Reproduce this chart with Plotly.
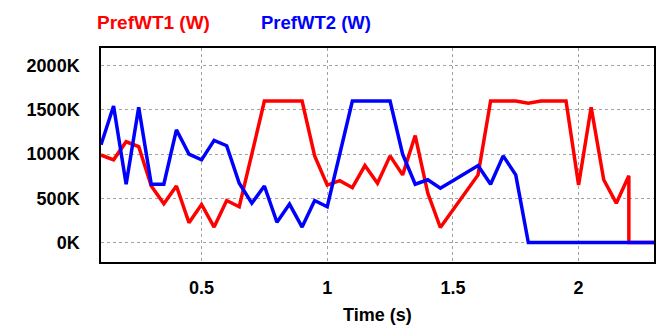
import plotly.graph_objects as go

time_s = [0.10, 0.15, 0.20, 0.25, 0.30, 0.35, 0.40, 0.45, 0.50, 0.55, 0.60, 0.65,
          0.70, 0.75, 0.80, 0.85, 0.90, 0.95, 1.00, 1.05, 1.10, 1.15, 1.20, 1.25,
          1.30, 1.35, 1.40, 1.45, 1.50, 1.55, 1.60, 1.65, 1.70, 1.75, 1.80, 1.85,
          1.90, 1.95, 2.00, 2.05, 2.10, 2.15, 2.20, 2.20, 2.25, 2.30]

pref_wt1_kw = [990, 935, 1140, 1086, 640, 440, 640, 225, 430, 175, 475, 405,
               1000, 1600, 1600, 1600, 1600, 980, 650, 700, 620, 870, 670, 980,
               765, 1210, 560, 170, 370, 570, 765, 1600, 1600, 1600, 1575, 1600,
               1600, 1600, 650, 1530, 710, 445, 755, 0, 0, 0]

pref_wt2_kw = [1105, 1545, 660, 1530, 660, 660, 1275, 1000, 935, 1155, 1095, 670,
               445, 640, 230, 435, 175, 475, 405, 1000, 1600, 1600, 1600, 1600,
               1000, 660, 710, 615, 700, 785, 870, 660, 980, 765, 0, 0,
               0, 0, 0, 0, 0, 0, 0, 0, 0, 0]

x_ticks = [0.5, 1, 1.5, 2]
x_tick_text = ["0.5", "1", "1.5", "2"]
y_ticks = [0, 500e3, 1000e3, 1500e3, 2000e3]
y_tick_text = ["0K", "500K", "1000K", "1500K", "2000K"]

wt1 = [v * 1e3 for v in pref_wt1_kw]
wt2 = [v * 1e3 for v in pref_wt2_kw]

W, H = 667, 326
ML, MR, MT, MB = 101, 13, 48, 64

fig = go.Figure()
fig.add_trace(go.Scatter(x=time_s, y=wt1, mode="lines", name="PrefWT1 (W)",
                         line=dict(color="#ff0000", width=3.5)))
fig.add_trace(go.Scatter(x=time_s, y=wt2, mode="lines", name="PrefWT2 (W)",
                         line=dict(color="#0000ff", width=3.5)))

font_family = "Liberation Sans, Arial, sans-serif"
tick_font = dict(size=18, family=font_family, color="black", weight="bold")

plot_w = W - ML - MR
plot_h = H - MT - MB
def px_to_paper(px, py):
    return (px - ML) / plot_w, (H - MB - py) / plot_h

ann = []
for text, color, cx, size in [("<b>PrefWT1 (W)</b>", "#ff0000", 153, 19),
                              ("<b>PrefWT2 (W)</b>", "#0000ff", 316, 18.5)]:
    xp, yp = px_to_paper(cx, 22)
    ann.append(dict(text=text, x=xp, y=yp, xref="paper", yref="paper", showarrow=False,
                    xanchor="center", yanchor="middle",
                    font=dict(size=size, color=color, family=font_family)))
xp, yp = px_to_paper(377, 315)
ann.append(dict(text="<b>Time (s)</b>", x=xp, y=yp, xref="paper", yref="paper",
                showarrow=False, xanchor="center", yanchor="middle",
                font=dict(size=18, color="black", family=font_family)))

fig.update_layout(
    width=W, height=H,
    margin=dict(l=ML, r=MR, t=MT, b=MB),
    paper_bgcolor="white", plot_bgcolor="white",
    showlegend=False,
    font=dict(family=font_family, color="black"),
    xaxis=dict(
        range=[0.1, 2.3], tickvals=x_ticks, ticktext=x_tick_text,
        showgrid=True, gridcolor="#a0a0a0", griddash="dot", gridwidth=1,
        showline=True, linecolor="black", linewidth=1.5, mirror=True,
        zeroline=False, ticks="", ticklabelstandoff=9,
        tickfont=tick_font,
    ),
    yaxis=dict(
        range=[-220e3, 2200e3], tickvals=y_ticks, ticktext=y_tick_text,
        showgrid=True, gridcolor="#a0a0a0", griddash="dot", gridwidth=1,
        showline=True, linecolor="black", linewidth=1.5, mirror=True,
        zeroline=False, ticks="", ticklabelstandoff=16,
        tickfont=tick_font,
    ),
    annotations=ann,
)

fig.write_html("out.html")
